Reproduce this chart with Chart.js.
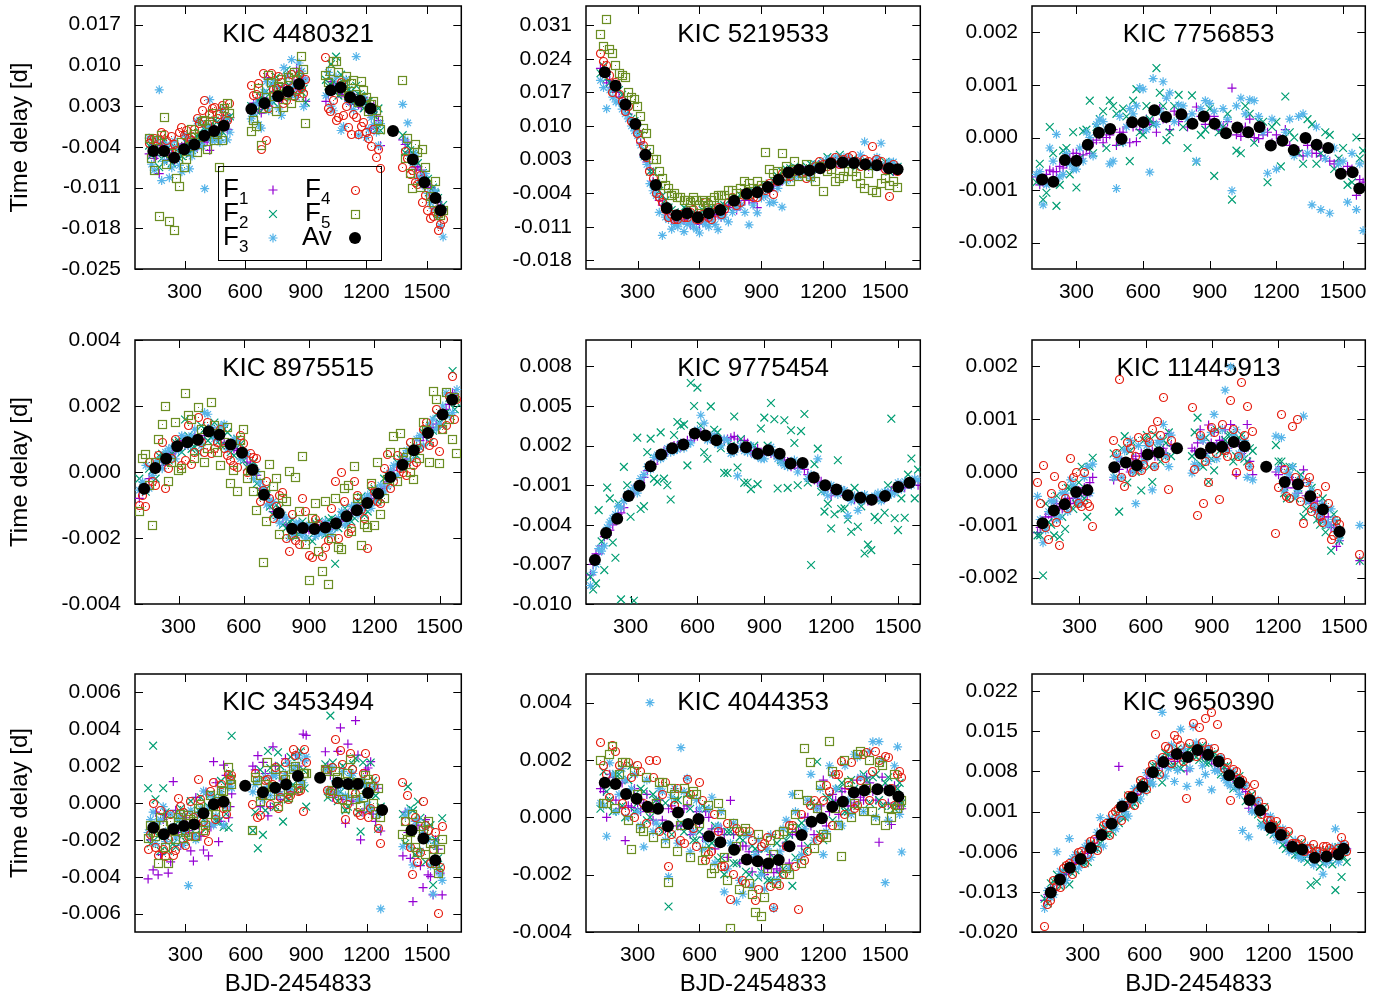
<!DOCTYPE html>
<html>
<head>
<meta charset="utf-8">
<title>Time delays</title>
<script src="https://cdn.jsdelivr.net/npm/chart.js@4.4.1/dist/chart.umd.min.js"></script>
<style>
html, body { margin: 0; padding: 0; background: #fff; }
#page { position: relative; width: 1390px; height: 1001px; overflow: hidden; background: #fff; }
#page canvas { position: absolute; }
</style>
</head>
<body>
<div id="page"></div>
<script>
/* Time delay diagrams, 9 stars. Time delays are in units of 0.001 d (axis labels show days).
   Each panel has two interleaved sets of epochs (…X and …XB) for the single-frequency delays. */

// ---- KIC 4480321 ----
const p1X   = [125,150,175,200,225,250,275,300,325,350,375,400,425,450,475,500,525, 630,655,680,705,730,755,780,805,830,855,880,900, 1000,1025,1050,1075,1100,1125,1150,1175,1200,1225,1250,1270, 1380,1405,1430,1455,1480,1505,1530,1555,1580];
const p1F1  = [-5.2,-6.0,-8.6,-4.0,-5.5,-6.5,-4.2,-3.5,-4.8,-3.0,-2.5,-3.2,-4.6,-1.0,-1.5,0.2,1.0, 2.0,3.5,1.8,7.9,4.0,5.6,4.3,6.0,5.0,9.5,7.5,3.8, 3.8,7.2,6.5,5.0,4.6,3.3,4.0,2.8,3.5,-0.8,1.5,-3.8, -2.8,-3.2,-5.5,-7.4,-9.0,-10.5,-12.0,-13.5,-14.7];
const p1F2  = [-3.8,-4.5,-7.5,-3.0,-6.2,-4.0,-6.0,-5.0,-5.2,-2.6,-1.5,-1.0,-0.5,0.5,-2.3,0.8,1.2, 3.0,2.2,4.6,5.5,6.8,8.0,5.5,9.2,6.0,8.6,5.4,3.6, 7.5,10.2,11.5,8.4,7.0,5.5,6.5,4.8,3.7,2.3,-1.0,-1.2, -2.0,-3.8,-5.2,-6.8,-8.5,-9.5,-11.0,-12.8,-14.0];
const p1F3  = [-2.5,-8.0,5.8,-6.5,-9.3,-3.0,-7.2,-2.0,-7.8,-4.5,0.5,-11.2,4.1,-2.8,-3.2,0.8,-1.5, 0.8,3.3,-0.8,7.2,3.8,6.5,1.4,8.1,11.0,4.5,9.0,7.5, 4.8,3.0,8.0,-1.2,7.6,5.0,11.5,3.5,-2.4,1.0,-1.5,0.0, 3.3,0.1,-6.8,-9.2,-10.6,-12.0,-14.6,-16.0,-19.5];
const p1F4  = [-3.5,-2.5,-4.2,-1.8,-5.0,-3.6,-1.5,-2.0,-2.5,-1.0,0.0,3.9,1.5,2.8,1.6,2.0,3.5, 6.5,5.0,-4.5,-3.0,8.6,6.0,7.0,4.0,8.5,5.5,6.0,7.5, 11.3,2.0,0.5,7.0,3.0,-1.8,1.0,-0.5,-1.5,-3.9,-5.8,-7.8, -7.5,-6.0,-8.0,-10.5,-13.5,-15.0,-16.0,-18.3,-16.5];
const p1F5  = [-2.5,-8.0,-15.9,1.0,-16.9,-18.3,-10.9,-7.5,-4.0,-1.8,-2.4,0.5,-0.2,-3.0,-7.5,2.5,1.8, -1.4,-0.5,-3.7,4.5,7.0,2.0,7.5,5.0,3.5,7.5,11.5,0.0, 8.2,9.0,10.7,5.5,8.0,6.8,5.0,7.2,4.5,3.2,2.2,-1.0, 7.4,-2.5,-11.2,-5.0,-4.5,-10.5,-13.5,-15.5,-15.0];
const p1XB  = [137,162,187,212,237,262,287,312,337,362,387,412,437,462,487,512, 642,667,692,717,742,767,792,817,842,867,890, 1012,1037,1062,1087,1112,1137,1162,1187,1212,1237,1260, 1392,1417,1442,1467,1492,1517,1542,1567];
const p1F1b = [-4.0,-5.5,-3.8,-6.2,-4.5,-5.8,-3.9,-5.0,-2.9,-4.1,-1.8,-2.9,-0.6,-1.9,0.2,-1.0, 3.5,2.4,4.4,3.0,5.5,4.0,6.2,4.9,7.0,5.8,7.8, 4.9,6.6,5.2,6.4,3.9,5.0,3.2,4.4,2.0,3.0,0.5, -3.6,-4.9,-7.6,-8.0,-11.0,-11.0,-12.4,-14.0];
const p1F2b = [-5.5,-3.9,-6.0,-4.4,-6.8,-4.6,-5.6,-3.4,-4.6,-2.2,-3.3,-0.8,-2.4,0.3,-1.4,0.9, 1.9,3.9,2.6,5.0,3.6,6.1,4.4,6.6,5.0,7.8,6.0, 6.5,7.2,4.8,7.0,5.8,3.6,5.0,2.6,3.8,1.4,2.6, -5.0,-4.6,-6.2,-9.6,-9.8,-12.6,-12.0,-15.2];
const p1F3b = [-7.0,-2.8,-9.8,-3.6,-7.6,-4.0,-8.3,-2.2,-5.6,0.4,-3.9,-0.5,-3.0,-2.0,2.4,-2.8, 1.6,-0.2,5.4,2.2,7.0,2.5,9.6,4.6,6.4,10.4,2.9, 8.8,2.2,6.6,-0.5,3.8,2.4,-2.0,4.6,-1.0,-0.2,-3.8, -2.8,-5.6,-5.2,-10.2,-8.6,-13.6,-11.6,-17.6];
const p1F4b = [-2.8,-3.9,-1.5,-3.0,-2.2,-4.6,-0.6,-1.2,-3.0,0.9,2.2,-0.2,2.6,0.8,3.1,0.5, 4.8,6.8,8.6,2.5,5.9,8.0,3.5,7.3,4.6,8.5,5.2, 2.6,4.0,1.0,1.3,-0.6,1.6,-1.8,0.2,-2.6,-1.0,-4.5, -4.8,-8.8,-10.1,-9.0,-12.4,-16.4,-15.2,-17.4];
const p1F5b = [-6.0,-3.0,-2.0,-7.0,-5.2,-9.5,-3.2,-6.2,-1.0,-5.0,0.3,-4.4,1.8,-1.8,-3.0,3.4, 0.5,6.0,2.5,8.2,4.6,6.4,2.8,7.9,8.8,4.4,9.3, 7.0,10.6,8.8,6.6,4.8,7.4,3.6,5.6,2.0,3.8,0.6, -6.0,-8.6,-3.6,-11.0,-7.6,-12.6,-10.0,-15.8];
const p1AvX = [146,199,249,298,349,398,447,495,631,696,763,813,867,1024,1073,1120,1169,1221,1332,1430,1487,1542,1568];
const p1AvY = [-4.7,-4.7,-5.9,-4.4,-3.6,-2.1,-1.3,-0.4,2.5,3.5,4.7,5.5,6.8,5.7,6.2,4.5,3.9,2.6,-1.3,-6.2,-10.1,-12.8,-14.9];

// ---- KIC 5219533 ----
const p2X   = [120,150,180,210,240,270,300,330,360,390,420,450,480,510,540,570,600,630,660,690,720,760,800,840,880,920,960,1000,1040,1080,1120,1160,1200,1240,1280,1320,1360,1400,1440,1480,1520,1560];
const p2F1  = [22.0,19.0,18.0,16.0,13.5,11.0,9.0,4.0,1.0,-3.0,-6.5,-8.5,-9.5,-9.0,-9.0,-10.0,-10.5,-9.5,-9.0,-8.5,-8.0,-7.0,-6.5,-5.5,-7.0,-4.5,-2.5,-1.5,0.0,0.5,0.5,1.0,1.5,2.0,2.5,2.8,2.0,2.0,2.5,1.5,1.0,0.8];
const p2F2  = [21.0,20.0,17.5,17.5,14.0,11.5,9.5,5.0,0.5,-2.0,-4.5,-7.0,-8.0,-8.5,-7.5,-8.0,-8.5,-8.0,-7.0,-7.5,-6.5,-5.5,-4.5,-4.5,-3.0,-2.5,-1.5,0.5,1.2,1.0,1.5,2.0,2.5,3.0,4.0,2.0,1.5,2.5,2.0,1.5,0.5,1.5];
const p2F3  = [19.5,13.6,16.0,15.0,12.5,10.0,8.0,3.5,-2.0,-4.5,-12.8,-9.5,-10.5,-10.0,-10.5,-11.0,-12.3,-10.5,-9.5,-11.6,-9.0,-8.0,-6.5,-10.6,-8.1,-4.5,-5.9,-6.9,-1.0,-0.5,0.0,2.0,2.5,3.0,2.8,3.5,2.5,6.7,1.5,6.4,2.5,1.5];
const p2F4  = [25.0,22.5,17.0,16.5,13.0,11.0,8.5,6.0,0.5,-4.0,-6.0,-9.0,-9.5,-8.5,-9.0,-7.5,-9.5,-6.0,-9.5,-7.0,-7.5,-5.0,-6.0,-4.5,-5.0,-3.5,-4.3,0.0,-0.5,1.0,-1.0,1.5,2.0,2.5,2.0,3.5,2.5,3.0,5.7,2.5,-4.6,0.5];
const p2F5  = [29.0,32.2,25.0,21.0,20.0,16.0,14.0,9.5,5.0,3.0,-1.0,-3.0,-4.0,-5.0,-5.5,-5.0,-6.5,-6.0,-5.5,-4.5,-4.5,-3.5,-3.0,-2.0,-1.5,4.5,0.0,4.3,-1.5,-0.5,2.0,-1.5,-3.7,1.0,-1.0,0.5,-0.5,-3.0,-3.5,-2.0,-2.5,-2.8];
const p2XB  = [135,165,195,225,255,285,315,345,375,405,435,465,495,525,555,585,615,645,675,705,740,780,820,860,900,940,980,1020,1060,1100,1140,1180,1220,1260,1300,1340,1380,1420,1460,1500,1540];
const p2F1b = [21.0,19.5,17.0,15.0,12.5,10.0,6.5,2.5,-1.5,-5.5,-7.5,-9.5,-10.0,-9.5,-10.5,-9.5,-10.0,-9.0,-8.5,-9.0,-6.5,-7.5,-5.5,-6.0,-4.5,-3.5,-1.8,0.5,-0.5,1.5,0.5,2.0,2.5,1.5,3.0,2.0,3.0,1.5,2.0,1.0,0.5];
const p2F2b = [22.5,19.0,18.5,16.5,13.0,11.0,8.0,4.5,0.5,-3.5,-5.5,-7.5,-8.5,-7.0,-8.5,-9.0,-7.5,-8.0,-7.5,-6.5,-7.0,-5.0,-4.0,-3.5,-3.5,-2.0,-0.5,1.0,1.5,0.5,2.0,1.0,3.5,2.5,2.0,3.0,2.5,1.5,2.0,2.5,1.0];
const p2F3b = [18.0,17.5,15.0,13.5,11.5,9.0,6.0,2.0,-3.5,-8.0,-9.0,-11.5,-11.0,-12.0,-10.0,-11.5,-10.0,-11.0,-10.5,-9.0,-10.0,-7.0,-8.0,-6.5,-5.0,-6.0,-3.0,-1.5,-0.5,0.5,-1.0,1.0,3.0,3.5,3.5,2.0,4.0,2.5,3.5,2.0,2.5];
const p2F4b = [23.5,20.5,19.0,15.0,14.0,10.5,7.0,3.5,-1.0,-5.0,-7.5,-8.5,-9.5,-9.0,-8.0,-9.5,-8.5,-9.0,-8.0,-8.5,-6.0,-6.5,-4.0,-5.0,-3.0,-2.0,-1.5,-0.5,0.5,0.0,1.0,2.5,1.5,3.5,3.0,3.8,1.5,2.5,3.0,1.0,2.0];
const p2F5b = [26.5,26.0,22.5,20.5,17.0,15.5,12.0,8.5,3.0,0.5,-2.5,-4.5,-5.0,-5.5,-6.0,-5.5,-5.5,-6.5,-5.0,-4.5,-3.5,-4.0,-1.5,-3.0,-2.5,1.0,0.5,1.5,2.5,0.0,-0.5,1.5,0.5,-1.5,-0.5,0.5,-2.0,0.0,-3.8,-1.0,-1.5];
const p2AvX = [141,193,241,289,338,388,441,489,540,592,645,701,768,829,880,931,983,1031,1082,1133,1185,1236,1294,1348,1403,1460,1518,1560];
const p2AvY = [21.2,18.4,14.5,10.4,4.0,-2.3,-7.1,-8.6,-8.2,-9.0,-8.2,-7.5,-5.6,-4.1,-3.8,-2.7,-1.2,0.3,0.9,0.7,1.2,2.2,2.4,2.3,2.0,1.8,1.2,1.0];

// ---- KIC 7756853 ----
const p3X   = [120,150,180,210,240,270,300,330,360,390,420,450,480,510,540,570,600,630,660,690,720,760,800,840,880,920,960,1000,1040,1080,1120,1160,1200,1240,1280,1320,1360,1400,1440,1480,1520,1560,1590];
const p3F1  = [-0.75,-0.85,-0.62,-0.65,-0.58,-0.40,-0.30,-0.33,-0.30,-0.05,-0.10,0.05,-0.15,0.10,-0.10,-0.08,0.15,0.25,0.10,0.35,0.15,0.30,0.20,0.58,0.25,0.40,0.20,0.94,0.02,0.35,-0.02,0.10,0.05,0.15,-0.25,-0.35,-0.30,-0.35,-0.45,-0.45,-0.55,-1.10,-0.85];
const p3F2  = [-0.85,-1.18,0.20,-1.30,-0.25,-0.70,-0.95,0.12,0.70,0.20,0.50,0.70,0.45,0.55,-0.45,0.92,0.05,0.35,1.32,0.60,0.10,0.81,-0.20,-0.46,0.15,-0.73,0.20,-1.18,-0.30,0.45,0.30,-0.85,0.30,0.78,0.00,-0.50,0.25,-0.30,0.05,-0.40,-0.90,0.00,-0.25];
const p3F3  = [-0.70,-1.28,-0.20,0.06,-0.70,-0.50,-0.60,-0.45,0.00,0.25,0.30,-0.50,-0.97,-0.10,0.55,0.60,0.92,-0.66,0.25,1.06,0.85,0.62,0.35,-0.45,0.70,0.50,0.55,-1.01,0.75,0.72,0.40,-0.68,-0.60,0.10,-0.35,0.45,-1.28,-1.37,-1.44,-0.50,-1.23,-1.37,-1.77];
const p3XB  = [135,165,195,225,255,285,315,345,375,405,435,465,495,525,555,585,615,645,675,705,740,780,820,860,900,940,980,1020,1060,1100,1140,1180,1220,1260,1300,1340,1380,1420,1460,1500,1540,1575];
const p3F1b = [-0.9,-0.7,-0.65,-0.55,-0.5,-0.3,-0.4,-0.2,-0.1,0.05,0.0,0.15,0.1,0.2,0.2,0.15,0.35,0.3,0.55,0.35,0.5,0.45,0.25,0.4,0.35,0.15,0.3,0.05,0.2,0.0,0.05,-0.1,-0.05,-0.15,-0.25,-0.15,-0.3,-0.2,-0.5,-0.65,-0.6,-0.8];
const p3F2b = [-0.5,-1.05,-0.3,-0.9,-0.2,0.1,-0.4,0.15,-0.3,0.35,-0.2,0.6,-0.1,0.4,0.7,0.1,0.6,0.25,0.85,-0.05,0.6,0.2,0.8,0.05,0.55,0.1,0.45,-0.25,0.6,-0.1,0.3,0.2,-0.55,0.1,-0.3,0.35,-0.5,0.1,-0.6,-0.2,-0.85,-0.4];
const p3F3b = [-0.65,-0.9,-0.45,-0.75,-0.3,-0.6,-0.2,0.1,-0.35,0.35,0.15,-0.45,0.4,0.2,0.45,0.95,0.15,1.12,0.5,0.75,0.3,0.6,0.45,0.55,0.65,0.25,0.35,0.6,0.45,0.7,0.1,0.35,-0.05,0.35,0.4,-0.3,0.2,-0.4,-0.2,-0.45,-0.3,-0.5];
const p3AvX = [146,196,248,300,351,401,452,503,551,601,651,703,772,822,873,922,973,1024,1073,1124,1175,1227,1278,1331,1381,1433,1490,1543,1573];
const p3AvY = [-0.80,-0.84,-0.43,-0.44,-0.14,0.09,0.16,-0.03,0.29,0.29,0.52,0.39,0.44,0.26,0.40,0.26,0.08,0.19,0.10,0.20,-0.15,-0.06,-0.24,-0.01,-0.14,-0.20,-0.69,-0.66,-0.97];

// ---- KIC 8975515 ----
const p4X   = [120,150,180,210,240,270,300,330,360,390,420,450,480,510,540,570,600,630,660,690,720,750,780,810,840,870,900,930,960,990,1020,1050,1080,1110,1140,1170,1200,1230,1260,1290,1320,1350,1380,1410,1440,1470,1500,1530,1560,1580];
const p4F1  = [-0.8,-0.4,0.1,0.3,0.35,0.55,0.85,0.8,0.95,1.05,1.1,1.3,1.05,0.9,0.85,0.65,0.45,0.25,-0.1,-0.55,-1.0,-1.25,-1.4,-1.6,-1.85,-1.65,-1.75,-1.8,-1.6,-1.75,-1.5,-1.5,-1.25,-1.15,-1.1,-0.85,-0.7,-0.5,-0.3,0.05,0.15,0.4,0.75,0.95,1.05,1.35,1.7,1.9,2.4,2.2];
const p4F2  = [-0.2,-0.6,0.05,0.5,0.3,0.55,0.95,1.59,0.7,0.6,1.3,1.05,0.9,1.3,0.6,1.0,0.35,0.0,-0.35,-0.75,-1.05,-1.0,-1.6,-1.5,-1.95,-1.5,-2.0,-1.55,-1.85,-1.45,-2.78,-1.3,-1.6,-1.4,-0.75,-1.2,-0.5,-0.8,-0.1,-0.15,0.4,0.3,0.55,0.75,1.3,1.25,1.5,1.8,3.06,2.1];
const p4F3  = [-0.55,0.2,-0.1,0.35,0.6,0.75,0.65,1.05,1.1,0.95,1.8,1.35,1.3,1.45,0.8,0.9,0.6,0.1,0.0,-0.5,-0.85,-1.4,-1.3,-2.0,-1.55,-1.9,-1.6,-1.95,-1.85,-1.8,-1.7,-1.2,-1.45,-1.0,-1.15,-0.7,-0.9,-0.4,-0.45,0.2,0.3,0.65,0.55,1.1,1.3,1.6,1.45,2.4,1.8,2.5];
const p4F4  = [-1.0,-1.05,-0.3,0.5,-0.5,0.4,0.8,0.35,0.23,1.64,0.6,0.55,0.9,0.7,0.35,0.15,0.85,0.55,0.4,-0.55,-0.8,-1.05,-0.63,-2.4,-2.07,-0.8,-2.52,-1.45,-2.56,-2.07,-0.3,0.0,-1.85,-0.3,-1.15,-2.33,-0.6,-0.95,0.53,-0.3,0.1,-0.12,0.2,0.7,1.5,0.9,0.61,1.4,2.88,2.2];
const p4F5  = [-1.19,0.53,-1.62,0.98,1.99,0.3,0.05,2.39,1.6,1.94,0.3,2.12,0.6,0.9,-0.35,-0.6,1.28,0.05,-1.16,-2.75,0.22,-0.2,-0.8,0.03,-0.18,0.47,-3.3,-0.95,-3.02,-3.4,-0.8,-2.35,-0.4,0.17,-2.22,-1.69,-1.62,-1.29,-0.23,1.08,1.18,0.45,-0.23,0.4,1.25,2.45,0.27,2.4,0.98,0.55];
const p4XB  = [135,165,195,225,255,285,315,345,375,405,435,465,495,525,555,585,615,645,675,705,735,765,795,825,855,885,915,945,975,1005,1035,1065,1095,1125,1155,1185,1215,1245,1275,1305,1335,1365,1395,1425,1455,1485,1515,1545,1570];
const p4F1b = [-0.6,-0.2,0.2,0.2,0.6,0.65,0.95,0.8,1.1,1.0,1.3,1.1,1.15,0.85,0.7,0.7,0.3,0.1,-0.5,-0.7,-1.2,-1.3,-1.6,-1.75,-1.6,-1.8,-1.65,-1.8,-1.7,-1.55,-1.6,-1.3,-1.3,-1.0,-1.05,-0.8,-0.6,-0.45,-0.2,0.2,0.25,0.65,0.7,1.1,1.2,1.45,1.8,2.05,2.35];
const p4F2b = [-0.4,0.1,-0.2,0.55,0.35,0.9,0.6,1.1,0.75,1.4,0.95,1.5,0.8,1.2,0.5,0.85,0.15,0.3,-0.6,-0.5,-1.3,-1.1,-1.7,-1.45,-1.9,-1.6,-2.1,-1.5,-1.9,-1.4,-1.7,-1.1,-1.5,-0.9,-1.3,-0.6,-0.9,-0.2,-0.35,0.3,0.1,0.75,0.5,1.2,0.9,1.75,1.4,2.25,1.9];
const p4F3b = [-0.3,-0.5,0.3,0.1,0.7,0.4,1.1,0.8,1.3,0.8,1.75,1.0,1.4,0.7,1.0,0.4,0.55,-0.2,-0.3,-1.0,-0.9,-1.55,-1.4,-1.9,-1.55,-2.0,-1.7,-1.85,-1.5,-1.9,-1.4,-1.6,-1.05,-1.3,-0.8,-1.1,-0.5,-0.6,0.05,-0.1,0.5,0.35,1.0,0.8,1.45,1.3,2.0,1.7,2.3];
const p4F4b = [-0.7,0.3,-0.4,0.9,0.1,1.0,0.2,1.4,0.6,0.9,1.5,0.7,1.3,0.5,0.2,1.1,0.0,0.45,-0.9,-0.3,-1.4,-0.7,-2.0,-1.3,-2.2,-1.2,-2.6,-1.6,-2.3,-1.1,-2.0,-0.9,-1.7,-0.7,-1.4,-0.4,-0.9,0.1,-0.5,0.5,0.0,0.9,0.3,1.3,0.8,1.9,1.3,2.3,1.6];
const p4F5b = [0.4,-0.4,0.3,1.45,-0.3,1.5,0.1,1.7,0.4,1.3,0.7,1.4,0.2,1.35,0.05,0.95,-0.2,-0.6,-0.1,-1.5,-0.45,-1.9,-0.9,-1.9,-1.2,-2.2,-1.4,-2.4,-0.9,-2.0,-2.3,-0.5,-1.8,-0.8,-1.6,-0.35,0.3,-0.8,0.6,-0.3,0.6,0.0,0.9,1.5,0.3,2.2,1.3,1.6,2.25];
const p4AvX = [142,193,243,294,341,389,439,488,540,592,641,693,761,822,872,925,975,1024,1073,1120,1168,1218,1274,1330,1382,1447,1514,1558];
const p4AvY = [-0.51,0.12,0.40,0.78,0.90,0.98,1.23,1.13,0.83,0.58,0.07,-0.69,-1.24,-1.72,-1.70,-1.73,-1.68,-1.56,-1.34,-1.16,-0.94,-0.66,-0.15,0.22,0.66,1.18,1.74,2.19];

// ---- KIC 9775454 ----
const p5X   = [120,145,170,195,220,245,270,300,330,360,390,420,450,480,510,540,570,600,630,660,690,720,750,780,810,840,870,900,930,960,990,1020,1050,1080,1110,1140,1170,1200,1230,1260,1290,1320,1350,1380,1410,1440,1470,1500,1530,1560,1590];
const p5F1  = [-7.8,-6.2,-5.6,-4.8,-4.0,-3.2,-2.7,-1.8,-1.0,-0.4,0.6,1.0,1.6,1.9,2.0,2.2,2.4,2.7,3.0,2.5,2.6,2.4,2.6,2.5,2.4,1.5,1.8,1.3,1.4,1.2,0.9,0.4,0.3,0.2,-0.5,-0.8,-1.0,-1.8,-1.5,-1.4,-2.0,-1.8,-2.1,-2.2,-1.9,-2.0,-1.4,-1.0,-1.2,-0.7,-1.0];
const p5F2  = [-7.93,-8.44,-5.26,-1.18,-5.34,-2.39,0.39,-3.39,2.6,-2.59,2.53,-0.75,-0.5,-2.08,3.79,3.61,6.74,6.39,1.5,4.97,3.0,-0.07,2.0,0.34,-0.82,-1.3,-0.92,4.12,5.23,-1.25,3.92,3.16,-1.0,4.39,-7.05,1.77,-3.0,-4.28,0.89,-2.76,-4.53,-4.15,-6.17,-5.92,-3.64,-3.09,4.04,-4.4,-3.47,1.02,0.18];
const p5F3  = [-8.6,-7.0,-6.0,-4.2,-3.5,-2.6,-2.2,-1.5,-1.6,-0.2,0.2,1.3,1.2,1.5,1.7,1.8,2.2,3.2,3.7,2.6,2.1,2.5,1.4,-0.3,1.6,2.0,1.2,1.0,1.9,1.0,0.5,0.8,0.0,0.6,-0.2,1.0,-1.5,-1.0,-1.7,-1.4,-2.2,-2.9,-1.7,-2.0,-1.6,-1.5,-1.7,-0.8,-0.7,-1.0,-0.6];
const p5XB  = [132,157,182,207,232,257,285,315,345,375,405,435,465,495,525,555,585,615,645,675,705,735,765,795,825,855,885,915,945,975,1005,1035,1065,1095,1125,1155,1185,1215,1245,1275,1305,1335,1365,1395,1425,1455,1485,1515,1545,1575];
const p5F1b = [-7.0,-6.2,-4.9,-4.4,-3.5,-3.1,-1.9,-1.6,-0.8,0.1,0.6,1.4,1.5,2.0,1.9,2.4,2.6,3.0,2.8,2.6,2.4,2.5,2.7,1.9,2.2,1.6,1.4,1.7,1.3,1.1,0.8,0.5,0.6,-0.2,-0.6,-0.7,-1.2,-1.4,-1.5,-1.9,-2.1,-2.0,-2.2,-1.9,-2.0,-1.6,-1.5,-1.0,-0.9,-0.7];
const p5F2b = [-8.9,-2.89,-7.43,-2.0,-6.5,-9.65,-1.0,-9.75,-2.8,1.5,-0.5,3.0,-1.0,2.8,3.5,0.5,5.0,3.5,1.0,3.2,1.8,-0.07,4.2,2.5,-0.8,2.0,3.3,2.0,4.0,0.9,-1.2,2.2,3.1,-0.8,0.6,-1.5,-2.4,-3.2,-2.8,-3.6,-1.2,-2.6,-5.5,-3.4,-2.0,-1.0,-3.5,-2.0,-0.2,-2.0];
const p5F3b = [-7.6,-5.8,-5.6,-3.8,-3.2,-2.7,-1.7,-1.2,-0.5,0.4,1.1,1.0,1.8,1.6,2.2,2.1,2.9,4.3,2.4,2.8,2.0,2.4,1.5,2.0,1.5,1.3,1.0,1.7,1.4,0.7,0.4,0.9,0.5,-0.5,-0.3,-1.0,-1.8,-1.5,-1.3,-3.3,-1.8,-2.2,-2.0,-1.8,-2.2,-1.5,-1.6,-1.3,-0.9,-0.5];
const p5AvX = [140,190,240,291,340,390,437,487,537,588,636,685,758,818,870,918,969,1018,1072,1122,1173,1224,1275,1331,1382,1442,1501,1552];
const p5AvY = [-6.67,-4.63,-3.55,-1.81,-1.05,0.44,1.32,1.80,2.08,2.91,2.76,2.40,1.77,1.87,1.39,1.65,1.39,0.64,0.69,-0.42,-1.0,-1.33,-1.76,-1.96,-2.11,-1.81,-1.13,-0.82];

// ---- KIC 11445913 ----
const p6X   = [110,135,160,185,210,235,260,285,310,335,360, 455,480,505,530,555,580,605,630,655,680,705, 810,835,860,885,910,935,960,985,1010,1035,1060,1085, 1190,1215,1240,1265,1290,1315,1340,1365,1390,1415,1440,1465, 1570];
const p6F1  = [-1.15,-1.0,-0.8,-0.75,-0.65,-0.55,-0.6,-0.5,-0.4,-0.45,-0.1, -0.15,0.05,0.2,0.0,0.3,0.35,0.25,0.4,0.3,0.45,0.73, 0.45,0.55,0.6,0.89,0.75,0.6,0.8,0.9,-0.05,0.35,0.9,-0.05, 0.0,0.1,-0.3,-0.15,-0.4,0.04,-0.5,-0.7,-0.9,-0.95,-1.05,-1.41, -1.68];
const p6F2  = [-1.2,-1.96,-0.95,-1.2,-1.23,-1.08,-0.3,-0.6,0.1,-0.85,0.27, 0.35,-0.75,0.68,0.4,0.0,-0.35,0.7,-0.19,0.45,0.6,0.75, 0.3,1.03,0.1,-0.19,0.03,0.4,0.6,0.7,0.3,0.7,0.2,0.4, 0.51,0.2,-0.5,0.09,-0.3,-0.85,-0.55,-0.7,-1.0,-1.14,-1.49,-0.95, -1.68];
const p6F3  = [-0.46,-1.34,-0.75,-0.55,-0.85,-0.4,-0.15,-0.45,-0.6,0.1,0.15, -0.1,0.25,0.4,0.6,-0.6,0.05,0.5,-0.34,0.55,0.9,0.1, -0.02,0.1,0.6,0.2,1.09,0.5,1.55,1.99,0.8,0.3,-0.1,-0.15, 0.68,0.65,0.0,0.1,-0.35,1.06,-0.2,-0.65,-0.8,-0.95,-0.7,-1.1, -1.01];
const p6F4  = [-0.19,0.13,-1.27,-0.09,-1.39,-0.5,0.25,0.0,-0.65,-0.6,-1.04, 0.6,1.75,-0.28,0.45,0.3,0.03,0.65,0.8,0.95,1.41,-0.34, 1.23,-0.82,-0.59,-0.19,0.75,-0.52,0.4,1.36,0.0,1.69,1.25,0.76, -1.17,1.09,-0.47,0.87,0.99,-0.97,-0.1,-0.65,-0.85,-0.28,-1.28,-0.92, -1.56];
const p6XB  = [122,147,172,197,222,247,272,297,322,347, 467,492,517,542,567,592,617,642,667,692,715, 822,847,872,897,922,947,972,997,1022,1047,1072, 1202,1227,1252,1277,1302,1327,1352,1377,1402,1427,1452,1477];
const p6F1b = [-1.05,-0.85,-0.85,-0.6,-0.7,-0.5,-0.5,-0.35,-0.3,-0.2, 0.1,0.2,0.1,0.25,0.15,0.3,0.35,0.3,0.45,0.35,0.5, 0.4,0.8,0.35,0.55,0.5,0.6,0.45,0.6,0.55,0.4,0.2, -0.05,-0.2,-0.1,-0.3,-0.2,-0.45,-0.6,-0.55,-0.85,-0.85,-1.0,-1.3];
const p6F2b = [-1.2,-0.6,-1.0,-0.45,-0.85,-0.3,-0.7,-0.2,-0.5,0.1, -0.1,0.45,-0.2,0.55,0.05,0.6,0.1,0.7,0.2,0.55,0.3, 0.75,0.15,0.65,0.25,0.8,0.35,0.7,0.2,0.65,0.25,0.45, 0.2,-0.4,0.1,-0.5,-0.05,-0.7,-0.3,-0.9,-0.5,-1.0,-0.8,-1.3];
const p6F3b = [-0.9,-1.1,-0.55,-0.9,-0.4,-0.75,-0.25,-0.55,-0.1,-0.4, 0.3,-0.1,0.45,0.0,0.5,0.2,0.55,0.1,0.6,0.3,0.7, 0.15,0.65,0.3,0.75,0.25,0.8,0.4,0.7,0.35,0.6,0.1, 0.05,-0.35,-0.05,-0.45,-0.15,-0.55,-0.35,-0.75,-0.6,-1.0,-0.9,-1.25];
const p6F4b = [-0.6,-1.05,-0.4,-0.95,-0.25,-0.7,-0.1,-0.6,0.0,-0.65, 0.35,-0.1,0.55,0.0,0.65,0.15,0.55,0.1,0.7,0.25,0.6, 0.05,0.7,0.2,0.85,0.35,0.9,0.3,0.8,0.3,0.7,0.1, -0.3,0.05,-0.5,-0.1,-0.55,-0.2,-0.75,-0.4,-0.95,-0.6,-1.2,-1.0];
const p6AvX = [133,184,233,285,336,458,510,560,609,660,742,849,896,946,999,1048,1146,1230,1290,1346,1403,1478];
const p6AvY = [-0.97,-0.73,-0.61,-0.38,-0.34,0.09,0.18,0.13,0.33,0.37,0.45,0.35,0.46,0.48,0.57,0.49,0.10,-0.19,-0.23,-0.46,-0.71,-1.13];

// ---- KIC 3453494 ----
const p7X   = [115,140,165,190,215,240,265,290,315,340,365,390,415,440,465,490,515,530, 635,660,685,710,735,760,785,810,835,860,885,900, 995,1020,1045,1070,1095,1120,1145,1170,1195,1220,1245,1270, 1380,1405,1430,1455,1480,1505,1530,1555,1575];
const p7F1  = [-4.12,-3.63,-3.9,-0.9,-3.8,1.16,-1.6,-1.0,-1.5,-3.15,-1.2,-2.55,-2.87,2.24,-2.1,2.06,-0.8,0.5, 2.0,2.57,2.2,-0.7,3.05,0.6,1.2,0.8,1.6,2.0,3.74,3.67, 2.78,1.5,0.6,4.08,-1.1,1.0,4.47,-2.0,1.8,2.24,-1.0,-1.52, -2.87,-1.6,-5.35,-1.2,-4.59,-3.9,-4.99,-2.5,-4.99];
const p7F2  = [0.8,3.11,-1.8,0.8,-2.6,-2.2,-1.0,-1.7,-0.5,-1.8,-0.4,-0.9,-0.2,0.3,-1.0,-1.3,-1.34,3.65, -1.5,-2.46,-1.73,2.82,1.5,2.75,-1.01,0.2,1.0,2.5,1.8,-0.2, 2.1,4.74,1.0,0.6,-0.4,1.2,2.42,-1.55,0.8,2.2,0.4,-0.2, -0.6,0.89,-0.4,0.07,-2.0,-1.8,-4.45,-3.0,-0.83];
const p7F3  = [-1.6,-0.5,-1.0,-0.2,-1.5,-1.3,-0.8,-2.3,-4.48,-1.8,-0.6,0.65,-0.3,-1.2,0.2,-1.2,0.9,0.8, 0.6,1.2,0.2,0.9,1.5,0.4,1.3,2.15,1.8,2.57,1.1,2.5, 1.8,0.6,1.2,0.9,0.4,1.5,0.8,0.2,1.0,-0.3,1.0,-5.75, -2.37,-0.43,-3.36,-0.9,-1.6,-2.0,-4.95,-3.6,-4.2];
const p7F4  = [-2.5,0.0,-2.86,-2.51,-2.0,-2.86,0.25,-0.5,-1.8,-0.8,1.3,-1.0,-2.1,1.12,0.0,-0.3,1.52,1.5, -0.1,-0.78,0.4,1.3,1.0,-0.3,1.5,0.2,2.93,0.6,-0.47,2.2, 1.8,0.6,3.47,2.87,-0.92,2.69,0.5,-0.69,2.7,-0.3,1.34,-2.19, 1.12,0.43,-3.86,-3.22,0.07,-1.5,-2.5,-6.02,-1.28];
const p7F5  = [-1.9,-1.6,-3.27,-1.2,-3.27,-1.5,-0.8,-1.9,-0.7,-1.0,-0.3,-1.5,-0.6,-0.2,0.1,0.6,1.9,1.0, -1.5,1.2,0.4,2.2,0.9,-0.2,1.5,0.3,1.8,0.8,1.6,1.6, 1.8,0.5,1.7,1.1,-0.3,2.35,0.2,-0.2,1.5,0.9,-0.61,-0.8, -1.7,-2.0,-0.61,-2.7,-1.5,-1.01,-2.5,-3.81,-2.0];
const p7XB  = [127,152,177,202,227,252,277,302,327,352,377,402,427,452,477,502,522, 647,672,697,722,747,772,797,822,847,872,892, 1007,1032,1057,1082,1107,1132,1157,1182,1207,1232,1257, 1392,1417,1442,1467,1492,1517,1542,1565];
const p7F1b = [-2.0,-0.5,-2.8,-0.6,-3.2,-0.4,-2.3,-0.8,-2.6,0.3,-1.8,0.6,-1.3,1.1,-1.0,1.5,-0.2, 1.8,-0.2,1.6,-0.2,2.0,0.2,2.4,0.6,2.6,0.8,2.3, 2.0,0.3,2.8,0.2,3.2,0.1,2.6,-0.5,1.9,-0.6,0.8, -0.5,-3.0,-1.0,-3.4,-0.9,-4.0,-2.0,-3.8];
const p7F2b = [-2.2,0.2,-2.6,-0.5,-0.6,-2.4,-0.3,-2.1,0.1,-1.7,0.3,-1.4,0.5,-1.0,1.2,-0.6,1.6, -0.5,1.8,-0.4,1.9,-0.2,2.0,0.3,2.5,0.6,2.8,0.8, 0.3,2.2,0.1,2.0,-0.2,2.1,-0.5,2.2,-0.4,1.2,-1.4, -2.2,-0.3,-2.8,-0.8,-3.2,-1.2,-2.0,-3.5];
const p7F3b = [-0.9,-2.2,-0.9,-2.1,-0.6,-1.9,-0.7,-1.6,-0.4,-2.0,-0.3,-1.1,0.4,-0.7,0.6,-0.2,1.2, 1.0,0.3,1.4,0.4,1.5,0.5,1.6,0.7,2.0,1.0,2.3, 0.7,1.9,0.5,1.7,0.3,1.6,0.2,1.3,-0.1,0.8,-0.6, -0.7,-2.4,-1.0,-2.6,-1.3,-3.4,-2.3,-3.9];
const p7F4b = [-1.7,-2.4,-0.4,-2.9,-0.6,-2.6,-0.2,-2.3,0.1,-1.8,0.2,-1.6,0.6,-0.9,1.0,-0.6,1.2, 1.6,-0.7,1.2,-0.1,1.9,0.3,2.2,0.4,2.6,0.7,2.9, 0.7,1.9,0.2,2.1,-0.1,1.8,-0.5,1.6,-0.8,0.9,-1.4, -1.0,-2.4,-0.8,-2.7,-1.2,-3.3,-1.6,-3.5];
const p7F5b = [-1.2,-1.8,-0.8,-2.4,-1.0,-2.0,-0.6,-1.6,-0.9,-1.8,-0.1,-1.2,0.4,-0.6,0.7,-0.2,1.3, 1.4,0.1,1.0,0.4,1.8,0.6,1.3,0.7,2.0,1.0,1.6, 1.7,0.7,1.4,0.2,1.6,0.5,1.1,0.3,1.3,0.0,0.8, -1.0,-1.6,-2.4,-1.3,-2.8,-2.2,-3.3,-2.5];
const p7AvX = [141,193,241,293,343,390,441,490,597,685,746,800,859,969,1056,1108,1157,1207,1277,1423,1482,1541];
const p7AvY = [-1.34,-1.70,-1.41,-1.25,-1.16,-0.56,-0.07,0.07,0.94,0.58,0.83,1.01,1.46,1.37,1.10,1.03,1.03,0.54,-0.38,-1.48,-1.93,-3.11];

// ---- KIC 4044353 ----
const p8X   = [120,150,180,210,240,270,300,330,360,390,420,450,480,510,540,570,600,630,660,690,720,750,780,810,840,870,900,930,960,990,1020,1050,1080,1110,1140,1170,1200,1230,1260,1290,1320,1350,1380,1410,1440,1470,1500,1530,1560,1580];
const p8F1  = [1.0,0.0,1.4,0.3,-0.81,0.35,0.3,0.5,0.2,0.6,-0.1,0.3,0.2,-0.3,0.4,-0.5,-0.2,0.2,-0.4,-0.5,-0.6,0.59,-1.0,-1.0,-1.2,-1.4,-1.7,-1.8,-1.93,-1.87,-0.9,-0.6,-0.5,0.0,-0.3,0.3,1.3,0.2,0.6,0.9,0.4,0.5,0.7,1.4,0.9,-0.87,1.0,-0.25,0.5,0.3];
const p8F2  = [0.3,0.9,0.2,1.5,0.0,1.8,0.5,0.9,0.0,0.6,-0.5,-3.11,0.6,-0.2,0.8,-0.8,-0.5,0.3,-0.9,-1.5,-1.99,-0.5,-1.6,-0.8,-2.0,-1.1,-1.9,-2.2,-1.4,-2.0,-0.8,-2.39,-0.3,-1.2,0.5,1.94,-0.8,0.7,0.5,1.2,0.2,1.0,0.9,1.3,1.4,0.6,1.2,0.4,1.0,0.5];
const p8F3  = [0.5,-0.66,1.5,0.8,1.3,1.0,0.2,-1.03,4.0,-0.2,0.9,-2.07,1.0,2.43,1.36,-0.5,0.3,-0.8,0.7,-0.3,-2.6,-0.9,-2.94,-2.68,-0.6,-1.3,-2.0,-1.1,-3.18,-1.2,-0.1,0.8,-1.5,-0.4,1.5,0.3,-1.3,1.8,1.0,-0.3,0.6,2.2,1.4,0.9,2.64,2.64,-2.28,1.0,2.46,-1.21];
const p8F4  = [2.61,1.5,2.5,1.8,0.2,1.4,1.8,0.5,1.98,1.98,0.8,-1.73,0.4,-0.8,1.31,-0.4,1.2,-1.5,-1.2,-0.5,-1.7,-2.86,-0.4,-2.22,-0.5,-2.89,-1.0,-0.7,-3.14,-2.39,-1.0,-0.3,-3.23,-1.5,0.4,-0.8,0.6,0.9,1.5,1.94,1.1,0.3,1.3,2.27,1.6,2.0,2.12,1.0,1.5,1.4];
const p8F5  = [1.98,0.5,2.46,1.5,1.9,-1.12,0.8,-0.5,0.3,0.5,1.2,-2.27,0.8,-0.3,0.6,0.9,-0.2,-1.2,-1.95,0.5,-1.4,-3.87,-1.0,-0.5,-2.3,-3.32,-3.45,-1.8,-1.3,-0.6,-1.8,-0.4,0.8,2.4,1.92,0.3,-0.6,2.66,0.3,-1.38,1.2,0.5,2.31,1.0,0.2,1.9,-0.3,0.0,0.3,0.6];
const p8XB  = [135,165,195,225,255,285,315,345,375,405,435,465,495,525,555,585,615,645,675,705,735,765,795,825,855,885,915,945,975,1005,1035,1065,1095,1125,1155,1185,1215,1245,1275,1305,1335,1365,1395,1425,1455,1485,1515,1545,1570];
const p8F1b = [0.9,1.5,0.6,1.2,0.4,1.0,0.2,0.8,-0.1,0.6,-0.4,0.4,-0.3,0.3,-0.6,0.2,-0.7,0.0,-1.1,-0.4,-1.4,-0.6,-1.6,-1.0,-1.9,-1.2,-2.0,-1.3,-1.8,-1.0,-1.6,-0.5,-1.0,0.0,-0.6,0.4,-0.3,0.8,0.1,1.0,0.4,1.3,0.6,1.2,0.6,1.4,0.5,1.1,0.4];
const p8F2b = [1.6,0.6,1.5,0.4,1.3,0.2,1.0,-0.1,0.8,-0.3,0.5,-0.6,0.6,-0.5,0.3,-0.8,0.4,-1.0,-0.3,-1.4,-0.5,-1.6,-0.7,-1.9,-1.0,-2.1,-1.1,-2.2,-0.9,-1.8,-0.6,-1.4,-0.2,-1.0,0.4,-0.6,0.7,-0.1,1.0,0.2,1.3,0.4,1.5,0.5,1.5,0.4,1.4,0.3,1.2];
const p8F3b = [0.4,1.9,0.2,1.7,0.0,1.5,-0.3,1.3,-0.5,1.0,-0.8,0.7,-0.9,0.9,-1.2,0.6,-1.1,0.3,-1.6,0.2,-1.8,-0.2,-2.2,-0.6,-2.4,-0.8,-2.5,-0.6,-2.2,-0.4,-1.8,0.2,-1.3,0.6,-0.8,1.0,-0.5,1.5,-0.2,1.8,0.1,2.1,0.2,2.3,0.0,2.0,-0.1,1.8,0.1];
const p8F4b = [1.8,0.7,2.3,0.5,1.9,0.0,1.6,-0.2,1.4,-0.5,1.2,-0.6,1.0,-0.9,0.8,-1.0,0.6,-1.3,0.1,-1.7,-0.2,-2.0,-0.5,-2.3,-0.8,-2.5,-0.9,-2.4,-0.6,-2.0,-0.3,-1.7,0.1,-1.2,0.6,-0.7,1.1,-0.3,1.5,0.1,1.9,0.4,2.2,0.6,2.3,0.5,2.1,0.4,1.6];
const p8F5b = [0.5,2.2,0.3,1.9,-0.1,1.6,-0.4,1.4,-0.7,1.2,-0.9,1.0,-1.2,1.0,-1.4,0.8,-1.5,0.4,-1.8,0.1,-2.2,-0.2,-2.5,-0.4,-2.7,-0.6,-2.8,-0.8,-2.3,-0.5,-2.0,0.1,-1.6,0.6,-1.1,1.1,-0.7,1.6,-0.3,2.0,0.0,2.2,0.2,2.0,-0.1,1.8,0.3,1.5,0.4];
const p8AvX = [141,193,244,295,348,399,447,496,545,595,646,701,768,829,882,933,984,1036,1095,1143,1193,1244,1295,1348,1399,1462,1520,1564];
const p8AvY = [1.21,1.16,0.81,0.65,0.37,0.30,-0.31,0.17,-0.23,-0.06,-0.66,-0.87,-1.13,-1.47,-1.53,-1.61,-1.49,-1.01,-0.62,-0.15,-0.03,0.37,0.54,0.87,0.94,0.98,0.94,0.73];

// ---- KIC 9650390 ----
const p9X   = [115,145,175,205,235,265,295,325,355,385,415,445,475,505,535,565,595,625,655,685,715,745,775,805,835,865,895,925,955,985,1015,1045,1075,1105,1135,1165,1195,1225,1255,1285,1315,1345,1375,1405,1435,1465,1495,1525,1555,1580];
const p9F1  = [-14.5,-12.5,-11.8,-10.0,-9.2,-7.5,-7.0,-6.3,-4.5,-3.0,-2.5,-0.8,8.88,2.0,3.5,4.0,5.0,7.2,8.5,9.0,10.3,9.75,10.5,8.12,11.0,11.5,10.5,10.0,9.0,8.5,7.5,6.2,5.0,1.58,2.5,1.3,-1.0,-2.5,-3.5,-4.3,-5.2,-5.8,-6.2,-6.5,-7.4,-7.0,-6.5,-6.0,-5.8,-5.5];
const p9F2  = [-14.2,-11.5,-10.0,-9.5,-11.7,-9.2,-8.0,-7.8,-5.5,-4.5,-3.0,-2.5,-1.0,0.0,2.0,3.0,4.5,6.0,9.0,6.08,11.0,9.0,8.5,11.5,12.0,10.0,9.5,11.0,10.2,8.8,7.0,6.5,5.5,3.04,2.5,-1.0,-1.0,-3.0,-2.3,-5.5,-5.5,-6.5,-7.2,-11.8,-11.2,-8.0,-7.5,-12.7,-10.4,-7.8];
const p9F3  = [-15.9,-14.0,-6.0,-11.5,-3.7,-6.5,-7.8,-4.5,-5.5,-0.05,-1.5,-0.5,0.0,1.0,2.5,5.0,4.5,6.2,7.5,18.3,8.5,6.25,15.4,5.4,15.8,6.1,7.5,4.8,8.0,6.8,5.5,5.0,-2.3,-3.4,1.0,-1.5,-1.8,-2.8,-3.8,-4.0,-5.8,-6.8,-6.5,-7.0,-6.5,-9.9,-7.5,-2.0,-4.5,-5.8];
const p9F4  = [-19.1,-14.5,-12.0,-9.0,-8.0,-7.5,-6.0,-6.5,-3.8,-3.0,-1.0,0.5,1.5,2.0,3.8,4.5,6.0,8.0,14.4,10.5,12.0,14.2,12.5,3.2,16.3,15.7,17.2,18.2,16.2,8.5,3.0,8.0,6.5,3.5,5.8,0.5,-0.5,-1.5,-2.5,-3.0,-4.5,-4.8,-6.0,-5.5,-6.0,-5.0,-5.5,-6.2,-3.5,-6.0];
const p9XB  = [130,160,190,220,250,280,310,340,370,400,430,460,490,520,550,580,610,640,670,700,730,760,790,820,850,880,910,940,970,1000,1030,1060,1090,1120,1150,1180,1210,1240,1270,1300,1330,1360,1390,1420,1450,1480,1510,1540,1568];
const p9F1b = [-13.5,-12.8,-10.2,-9.9,-8.0,-7.8,-6.0,-5.8,-3.6,-3.2,-1.0,-0.8,1.6,2.2,4.2,4.6,6.8,7.3,9.4,9.3,10.9,10.5,11.3,10.2,12.0,10.8,11.2,9.3,9.2,7.0,7.1,5.0,4.5,2.2,2.1,0.6,-1.0,-2.2,-3.0,-4.9,-4.8,-6.0,-6.0,-7.2,-6.6,-7.2,-6.3,-6.9,-5.3];
const p9F2b = [-15.0,-11.2,-12.0,-8.6,-9.8,-6.4,-8.0,-4.5,-5.5,-1.8,-3.0,0.8,0.0,3.8,2.4,6.2,5.0,9.0,7.5,11.2,9.0,12.0,9.5,12.2,10.5,12.5,9.5,11.2,7.5,9.0,5.0,7.2,2.8,4.0,0.5,1.8,-2.5,-1.2,-4.8,-3.0,-6.5,-4.4,-7.8,-5.5,-8.6,-5.8,-8.2,-5.2,-7.0];
const p9F3b = [-12.8,-13.5,-9.4,-11.0,-7.2,-8.8,-5.2,-7.0,-2.6,-5.0,-0.2,-2.0,2.6,0.2,5.0,3.2,7.8,5.8,10.2,7.2,12.6,8.2,12.0,8.5,13.0,9.0,12.2,8.2,10.4,6.0,8.0,4.0,5.6,1.0,3.0,-1.6,0.2,-4.0,-2.0,-6.0,-4.0,-7.2,-5.0,-8.3,-5.8,-8.0,-5.2,-7.8,-4.8];
const p9F4b = [-15.2,-11.0,-12.2,-8.4,-10.0,-6.2,-8.0,-4.2,-5.8,-1.5,-3.2,1.0,-0.5,3.8,2.0,6.4,4.8,9.2,7.5,12.4,9.4,13.5,9.8,12.8,10.6,13.0,11.8,12.0,10.5,9.6,8.4,6.8,5.6,4.2,2.8,1.8,-0.6,-0.8,-2.5,-2.5,-4.6,-3.8,-5.5,-4.8,-6.0,-5.0,-6.2,-5.5,-4.8];
const p9AvX = [145,190,238,290,340,391,440,491,539,589,640,691,756,809,857,908,959,1010,1060,1109,1160,1211,1261,1316,1364,1425,1482,1540,1565];
const p9AvY = [-13.12,-10.84,-8.80,-7.28,-5.36,-3.08,-1.10,1.88,3.45,5.32,7.88,9.63,11.03,10.51,11.74,10.92,9.75,7.36,6.02,3.04,1.23,-1.80,-3.08,-5.13,-5.59,-7.05,-6.82,-6.47,-5.48];

// tick values (y in units of 0.001 d)
const xTicks  = [300, 600, 900, 1200, 1500];
const yTicks1 = [-25, -18, -11, -4, 3, 10, 17];
const yTicks2 = [-18, -11, -4, 3, 10, 17, 24, 31];
const yTicks3 = [-2, -1, 0, 1, 2];
const yTicks4 = [-4, -2, 0, 2, 4];
const yTicks5 = [-10, -7, -4, -1, 2, 5, 8];
const yTicks6 = [-2, -1, 0, 1, 2];
const yTicks7 = [-6, -4, -2, 0, 2, 4, 6];
const yTicks8 = [-4, -2, 0, 2, 4];
const yTicks9 = [-20, -13, -6, 1, 8, 15, 22];

const FONT = '"Liberation Sans", Arial, Helvetica, sans-serif';
const seriesNames  = ['F1', 'F2', 'F3', 'F4', 'F5'];
const seriesColors = ['#9400d3', '#009e73', '#56b4e9', '#e51e10', '#6b8e23'];

// open markers with a centre dot, like the gnuplot ones
function openMarker(shape, color) {
    const c = document.createElement('canvas');
    c.width = 11; c.height = 11;
    const g = c.getContext('2d');
    g.strokeStyle = color; g.fillStyle = color; g.lineWidth = 1.2;
    if (shape === 'circle') { g.beginPath(); g.arc(5.5, 5.5, 4, 0, Math.PI * 2); g.stroke(); }
    else { g.strokeRect(1.5, 1.5, 8, 8); }
    g.fillRect(5, 5, 1, 1);
    return c;
}
const markerStyles = [
    { pointStyle: 'cross',    pointRadius: 4.5 },
    { pointStyle: 'crossRot', pointRadius: 5.5 },
    { pointStyle: 'star',     pointRadius: 4.5 },
    { pointStyle: openMarker('circle', seriesColors[3]), pointRadius: 5 },
    { pointStyle: openMarker('square', seriesColors[4]), pointRadius: 5 },
];

const cols = [[135, 464], [586, 923], [1032, 1368]];
const rows = [[6, 269], [340, 604], [674, 932]];

const panels = [
    { title: 'KIC 4480321',  c: 0, r: 0, xr: [55, 1670],  yr: [-25, 20.2], yt: yTicks1, legend: true,
      sets: [{ x: p1X, F: [p1F1, p1F2, p1F3, p1F4, p1F5] }, { x: p1XB, F: [p1F1b, p1F2b, p1F3b, p1F4b, p1F5b] }], avX: p1AvX, avY: p1AvY },
    { title: 'KIC 5219533',  c: 1, r: 0, xr: [50, 1670],  yr: [-19.8, 35], yt: yTicks2,
      sets: [{ x: p2X, F: [p2F1, p2F2, p2F3, p2F4, p2F5] }, { x: p2XB, F: [p2F1b, p2F2b, p2F3b, p2F4b, p2F5b] }], avX: p2AvX, avY: p2AvY },
    { title: 'KIC 7756853',  c: 2, r: 0, xr: [100, 1600], yr: [-2.5, 2.5], yt: yTicks3,
      sets: [{ x: p3X, F: [p3F1, p3F2, p3F3, null, null] }, { x: p3XB, F: [p3F1b, p3F2b, p3F3b, null, null] }], avX: p3AvX, avY: p3AvY },
    { title: 'KIC 8975515',  c: 0, r: 1, xr: [100, 1600], yr: [-4, 4], yt: yTicks4,
      sets: [{ x: p4X, F: [p4F1, p4F2, p4F3, p4F4, p4F5] }, { x: p4XB, F: [p4F1b, p4F2b, p4F3b, p4F4b, p4F5b] }], avX: p4AvX, avY: p4AvY },
    { title: 'KIC 9775454',  c: 1, r: 1, xr: [100, 1600], yr: [-10, 10], yt: yTicks5,
      sets: [{ x: p5X, F: [p5F1, p5F2, p5F3, null, null] }, { x: p5XB, F: [p5F1b, p5F2b, p5F3b, null, null] }], avX: p5AvX, avY: p5AvY },
    { title: 'KIC 11445913', c: 2, r: 1, xr: [85, 1595], yr: [-2.5, 2.5], yt: yTicks6,
      sets: [{ x: p6X, F: [p6F1, p6F2, p6F3, p6F4, null] }, { x: p6XB, F: [p6F1b, p6F2b, p6F3b, p6F4b, null] }], avX: p6AvX, avY: p6AvY },
    { title: 'KIC 3453494',  c: 0, r: 2, xr: [50, 1670], yr: [-7, 7], yt: yTicks7,
      sets: [{ x: p7X, F: [p7F1, p7F2, p7F3, p7F4, p7F5] }, { x: p7XB, F: [p7F1b, p7F2b, p7F3b, p7F4b, p7F5b] }], avX: p7AvX, avY: p7AvY },
    { title: 'KIC 4044353',  c: 1, r: 2, xr: [50, 1670], yr: [-4, 5], yt: yTicks8,
      sets: [{ x: p8X, F: [p8F1, p8F2, p8F3, p8F4, p8F5] }, { x: p8XB, F: [p8F1b, p8F2b, p8F3b, p8F4b, p8F5b] }], avX: p8AvX, avY: p8AvY },
    { title: 'KIC 9650390',  c: 2, r: 2, xr: [54, 1670], yr: [-20, 25], yt: yTicks9,
      sets: [{ x: p9X, F: [p9F1, p9F2, p9F3, p9F4, null] }, { x: p9XB, F: [p9F1b, p9F2b, p9F3b, p9F4b, null] }], avX: p9AvX, avY: p9AvY },
];

function toPoints(xs, ys) {
    return ys.map((v, i) => ({ x: xs[i], y: v })).filter(p => p.y !== null);
}

// frame, inward ticks and the star name inside the box
const framePlugin = {
    id: 'frame',
    beforeDatasetsDraw(chart, args, opts) {
        const { ctx, chartArea: a, scales } = chart;
        ctx.save();
        ctx.strokeStyle = '#000';
        ctx.lineWidth = 1;
        const tl = 8;
        ctx.beginPath();
        opts.xt.forEach(v => {
            const px = Math.round(scales.x.getPixelForValue(v)) + 0.5;
            ctx.moveTo(px, a.bottom); ctx.lineTo(px, a.bottom - tl);
            ctx.moveTo(px, a.top);    ctx.lineTo(px, a.top + tl);
        });
        opts.yt.forEach(v => {
            const py = Math.round(scales.y.getPixelForValue(v)) + 0.5;
            ctx.moveTo(a.left, py);  ctx.lineTo(a.left + tl, py);
            ctx.moveTo(a.right, py); ctx.lineTo(a.right - tl, py);
        });
        ctx.stroke();
        ctx.lineWidth = 1.5;
        ctx.strokeRect(a.left, a.top, a.right - a.left, a.bottom - a.top);
        ctx.fillStyle = '#000';
        ctx.font = '26px ' + FONT;
        ctx.textAlign = 'center';
        ctx.textBaseline = 'alphabetic';
        ctx.fillText(opts.title, (a.left + a.right) / 2, a.top + 36);
        ctx.restore();
        // keep the small marker sprites crisp
        ctx.imageSmoothingEnabled = false;
    }
};

// key of the first panel: two columns, subscripted names
const keyPlugin = {
    id: 'key',
    afterDatasetsDraw(chart, args, opts) {
        if (!opts.show) return;
        const { ctx, chartArea: a } = chart;
        const bx = a.left + 83, by = a.top + 160;
        ctx.save();
        ctx.strokeStyle = '#000';
        ctx.lineWidth = 1;
        ctx.strokeRect(bx + 0.5, by + 0.5, 163, 94);
        const entries = [
            { main: 'F', sub: '1', s: 0, tx: 88,  mx: 138, row: 0 },
            { main: 'F', sub: '2', s: 1, tx: 88,  mx: 138, row: 1 },
            { main: 'F', sub: '3', s: 2, tx: 88,  mx: 138, row: 2 },
            { main: 'F', sub: '4', s: 3, tx: 170, mx: 220, row: 0 },
            { main: 'F', sub: '5', s: 4, tx: 170, mx: 220, row: 1 },
            { main: 'Av', sub: '', s: 5, tx: 167, mx: 220, row: 2 },
        ];
        entries.forEach(e => {
            const base = a.top + 190.5 + e.row * 24.2;
            ctx.fillStyle = '#000';
            ctx.textAlign = 'left';
            ctx.textBaseline = 'alphabetic';
            ctx.font = '26px ' + FONT;
            ctx.fillText(e.main, a.left + e.tx, base);
            if (e.sub) {
                const w = ctx.measureText(e.main).width;
                ctx.font = '17px ' + FONT;
                ctx.fillText(e.sub, a.left + e.tx + w, base + 7);
            }
            const cy = Math.round(base - 7);
            const cx = Math.round(a.left + e.mx);
            if (e.s < 5) {
                const st = markerStyles[e.s];
                ctx.strokeStyle = seriesColors[e.s];
                ctx.fillStyle = seriesColors[e.s];
                ctx.lineWidth = 1.2;
                Chart.helpers.drawPoint(ctx, { pointStyle: st.pointStyle, radius: st.pointRadius, borderWidth: 1.2, rotation: 0 }, cx, cy);
            } else {
                ctx.fillStyle = '#000';
                ctx.beginPath(); ctx.arc(cx, cy, 6, 0, Math.PI * 2); ctx.fill();
            }
        });
        ctx.restore();
    }
};

const page = document.getElementById('page');
const AXW = 135, PADT = 16, PADR = 4;

panels.forEach(p => {
    const [l, rr] = cols[p.c];
    const [t, b] = rows[p.r];
    const lastRow = p.r === 2;
    const axH = lastRow ? 1001 - b : 45;
    const canvas = document.createElement('canvas');
    canvas.width = AXW + (rr - l) + PADR;
    canvas.height = PADT + (b - t) + axH;
    canvas.style.left = (l - AXW) + 'px';
    canvas.style.top = (t - PADT) + 'px';
    page.appendChild(canvas);

    const datasets = [{
        label: 'Av',
        data: toPoints(p.avX, p.avY),
        pointStyle: 'circle',
        pointRadius: 6,
        pointBackgroundColor: '#000',
        pointBorderWidth: 0,
        borderColor: '#000',
    }];
    for (let i = 4; i >= 0; i--) {
        const pts = [];
        p.sets.forEach(s => { if (s.F[i]) pts.push(...toPoints(s.x, s.F[i])); });
        if (!pts.length) continue;
        datasets.push({
            label: seriesNames[i],
            data: pts,
            pointStyle: markerStyles[i].pointStyle,
            pointRadius: markerStyles[i].pointRadius,
            pointBorderColor: seriesColors[i],
            pointBackgroundColor: 'rgba(0,0,0,0)',
            pointBorderWidth: 1.2,
            borderColor: seriesColors[i],
        });
    }

    new Chart(canvas.getContext('2d'), {
        type: 'scatter',
        data: { datasets },
        options: {
            responsive: false,
            animation: false,
            devicePixelRatio: 1,
            events: [],
            layout: { padding: { top: PADT, right: PADR, left: 0, bottom: 0 } },
            plugins: {
                legend: { display: false },
                tooltip: { enabled: false },
                frame: { title: p.title, xt: xTicks, yt: p.yt },
                key: { show: !!p.legend },
            },
            scales: {
                x: {
                    type: 'linear',
                    min: p.xr[0], max: p.xr[1],
                    afterBuildTicks: s => { s.ticks = xTicks.map(v => ({ value: v })); },
                    afterFit: s => { s.height = axH; s.paddingLeft = 0; s.paddingRight = 0; },
                    grid: { display: false, drawTicks: false },
                    border: { display: false },
                    ticks: { color: '#000', font: { family: FONT, size: 21 }, padding: 11, autoSkip: false, maxRotation: 0, callback: v => String(v) },
                    title: { display: lastRow, text: 'BJD-2454833', color: '#000', font: { family: FONT, size: 24 }, padding: { top: 0, bottom: 2 } },
                },
                y: {
                    type: 'linear',
                    min: p.yr[0], max: p.yr[1],
                    afterBuildTicks: s => { s.ticks = p.yt.map(v => ({ value: v })); },
                    afterFit: s => { s.width = AXW; s.paddingTop = 0; s.paddingBottom = 0; },
                    grid: { display: false, drawTicks: false },
                    border: { display: false },
                    ticks: { color: '#000', font: { family: FONT, size: 21 }, padding: 14, autoSkip: false, callback: v => (v / 1000).toFixed(3) },
                    title: { display: p.c === 0, text: 'Time delay [d]', color: '#000', font: { family: FONT, size: 24 }, padding: { top: 6, bottom: 0 } },
                },
            },
        },
        plugins: [framePlugin, keyPlugin],
    });
});
</script>
</body>
</html>
